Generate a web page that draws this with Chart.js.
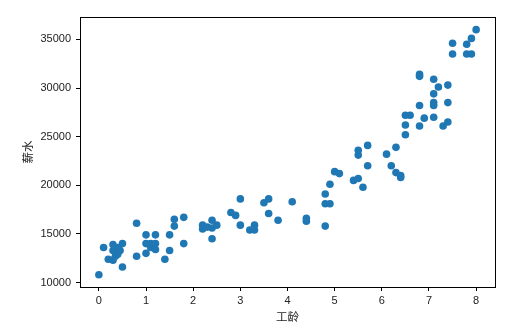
<!DOCTYPE html>
<html>
<head>
<meta charset="utf-8">
<script src="https://cdn.jsdelivr.net/npm/chart.js@4/dist/chart.umd.min.js"></script>
<style>
  html, body { margin: 0; padding: 0; background: #fff; }
  #wrap { width: 518px; height: 331px; }
</style>
</head>
<body>
<div id="wrap"><canvas id="salaryChart" width="518" height="331"></canvas></div>
<script>
// 工龄 (years)
const years = [
  0.0, 0.1, 0.2, 0.3, 0.3, 0.3, 0.35, 0.4, 0.4, 0.45, 0.5, 0.5, 0.8, 0.8,
  1.0, 1.0, 1.0, 1.1, 1.1, 1.2, 1.2, 1.2, 1.4, 1.5, 1.5, 1.6, 1.6, 1.8, 1.8,
  2.2, 2.2, 2.3, 2.4, 2.4, 2.4, 2.5, 2.8, 2.9, 3.0, 3.0, 3.2, 3.3, 3.3,
  3.5, 3.6, 3.6, 3.8, 4.1, 4.4, 4.4,
  4.8, 4.8, 4.9, 4.8, 4.9, 5.0, 5.1, 5.4, 5.5, 5.5, 5.5, 5.6, 5.7, 5.7,
  6.1, 6.2, 6.3, 6.3, 6.4, 6.4,
  6.5, 6.6, 6.5, 6.5, 6.8, 6.8, 6.8, 6.8, 6.9, 7.1, 7.2, 7.4, 7.1, 7.1,
  7.1, 7.1, 7.3, 7.4, 7.4, 7.5, 7.5, 7.8, 7.8, 7.9, 7.9, 8.0
];

// 薪水 (salary)
const salaries = [
  10800, 13600, 12400, 13900, 12300, 13300, 12700, 13600, 12900, 13300, 14000, 11600, 16100, 12700,
  14900, 14000, 13000, 14000, 13600, 14900, 14000, 13400, 12400, 14900, 13300, 16500, 15800, 16700, 14000,
  15900, 15500, 15700, 16400, 15600, 14500, 15900, 17200, 16900, 18600, 15900, 15400, 15900, 15400,
  18200, 18600, 17100, 16400, 18300, 16600, 16300,
  19100, 18100, 18100, 15800, 20100, 21400, 21200, 20500, 20700, 23600, 23100, 19800, 22000, 24100,
  23200, 22000, 23900, 21300, 21000, 20800,
  27200, 27200, 26200, 25200, 31400, 31200, 28200, 26100, 26900, 30900, 30100, 30300, 29400, 28500,
  28200, 27000, 26100, 26500, 28500, 34600, 33500, 34500, 33500, 33500, 35100, 36000
];

const xTicks = [0, 1, 2, 3, 4, 5, 6, 7, 8];
const yTicks = [10000, 15000, 20000, 25000, 30000, 35000];

const points = years.map((x, i) => ({ x: x, y: salaries[i] }));

// draws the full box around the plot, like matplotlib spines
const frame = {
  id: 'frame',
  afterDraw(chart) {
    const a = chart.chartArea;
    const ctx = chart.ctx;
    ctx.save();
    ctx.strokeStyle = '#000';
    ctx.lineWidth = 1;
    ctx.strokeRect(Math.round(a.left) + 0.5, Math.round(a.top) + 0.5,
      Math.round(a.right - a.left), Math.round(a.bottom - a.top));
    ctx.restore();
  }
};

const tickFont = { family: 'Liberation Sans, Arial, sans-serif', size: 11 };
const titleFont = { family: 'Noto Sans CJK SC, sans-serif', size: 11.5 };

new Chart(document.getElementById('salaryChart').getContext('2d'), {
  type: 'scatter',
  data: {
    datasets: [{
      data: points,
      backgroundColor: '#1f77b4',
      borderWidth: 0,
      pointRadius: 3.8,
      pointHoverRadius: 3.8
    }]
  },
  options: {
    responsive: false,
    animation: false,
    events: [],
    layout: { padding: { top: 17, right: 23, left: 0, bottom: 0 } },
    plugins: {
      legend: { display: false },
      tooltip: { enabled: false }
    },
    scales: {
      x: {
        type: 'linear',
        min: -0.4,
        max: 8.4,
        afterBuildTicks: s => { s.ticks = xTicks.map(v => ({ value: v })); },
        afterFit: s => { s.height = 44; },
        grid: { drawOnChartArea: false, tickLength: 4, tickColor: '#000' },
        border: { display: true, color: '#000' },
        ticks: { color: '#222', font: tickFont, padding: 3, maxRotation: 0 },
        title: { display: true, text: '工龄', color: '#222', font: titleFont, padding: { top: 0, bottom: 7 } }
      },
      y: {
        type: 'linear',
        min: 9540,
        max: 37300,
        afterBuildTicks: s => { s.ticks = yTicks.map(v => ({ value: v })); },
        afterFit: s => { s.width = 80; },
        grid: { drawOnChartArea: false, tickLength: 4, tickColor: '#000' },
        border: { display: true, color: '#000' },
        ticks: { color: '#222', font: tickFont, padding: 5, callback: v => String(v) },
        title: { display: true, text: '薪水', color: '#222', font: titleFont, padding: { top: 21, bottom: 0 } }
      }
    }
  },
  plugins: [frame]
});
</script>
</body>
</html>
